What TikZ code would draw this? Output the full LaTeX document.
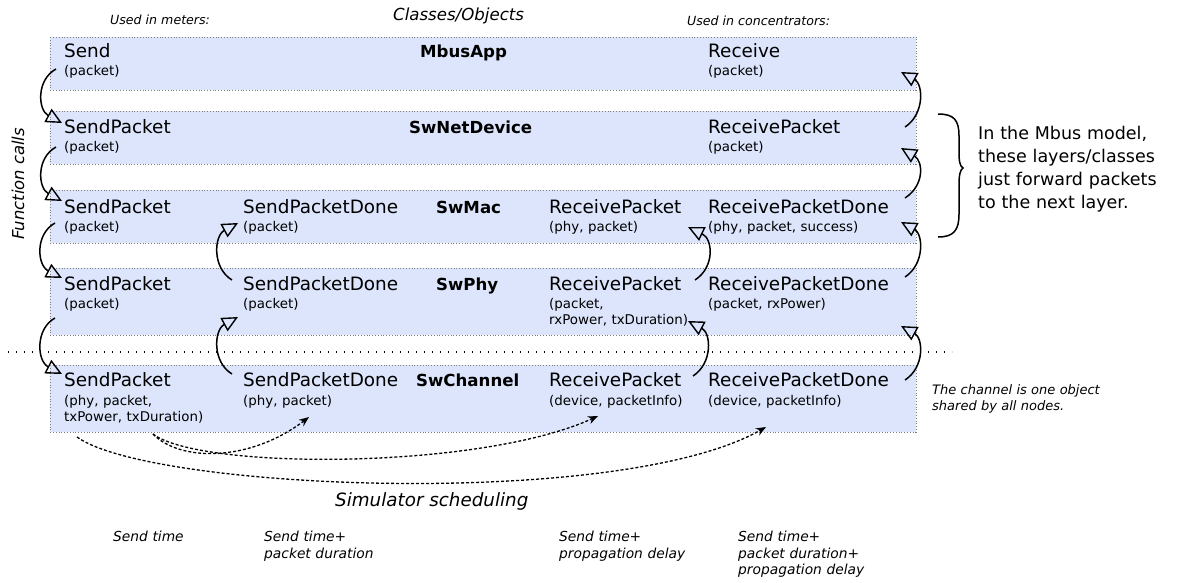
\documentclass[tikz,border=0pt]{standalone}
\usepackage{fontspec}
\setmainfont{DejaVu Sans}
\usetikzlibrary{arrows.meta}
\definecolor{layerfill}{RGB}{220,229,251}
\definecolor{layerline}{RGB}{125,125,125}
\begin{document}
\begin{tikzpicture}[x=1pt,y=-1pt,
 layer/.style={draw=layerline, dotted, line width=0.8pt, fill=layerfill},
 fn/.style={anchor=base west, inner sep=0, font=\fontsize{18.4}{22}\selectfont},
 prm/.style={anchor=base west, inner sep=0, text width=220pt, align=left, font=\fontsize{13.4}{16.5}\selectfont},
 cls/.style={anchor=base west, inner sep=0, font=\fontsize{16.6}{20}\selectfont\bfseries},
 hdr/.style={anchor=base west, inner sep=0, font=\fontsize{12.6}{15}\selectfont\itshape},
 foot/.style={anchor=base west, inner sep=0, text width=200pt, align=left, font=\fontsize{13.8}{16.6}\selectfont\itshape},
 call/.style={-{Triangle[open,length=16pt,width=15pt,line width=1.4pt]}, line width=1.5pt},
 sched/.style={-{Stealth[length=10pt,width=8pt]}, line width=1.3pt, dash pattern=on 3pt off 2pt},
 sep/.style={line width=1.2pt, dash pattern=on 1.2pt off 6.8pt},
]
\useasboundingbox (0,0) rectangle (1178,582);

% layer boxes
\path[layer] (50,37) rectangle (916,90);
\path[layer] (50,111) rectangle (916,164);
\path[layer] (50,190) rectangle (916,243);
\path[layer] (50,268) rectangle (916,335);
\path[layer] (50,365) rectangle (916,432);

% separator
\coordinate (sepL) at (8,352);
\coordinate (sepR) at (952,352);
\draw[sep] (sepL) -- (sepR);

% headers
\node[hdr] (meters) at (110,24) {Used in meters:};
\node[anchor=base west, inner sep=0, font=\fontsize{16.6}{20}\selectfont\itshape] (classes) at (393,20) {Classes/Objects};
\node[hdr] (conc) at (687,25) {Used in concentrators:};
\node[rotate=90, inner sep=0, font=\fontsize{16.4}{20}\selectfont\itshape] (fcalls) at (18,184) {Function calls};

% MbusApp
\node[fn] (appS) at (64,57) {Send};
\node[prm] (appSp) at (64,75.5) {(packet)};
\node[cls] (appC) at (420,57) {MbusApp};
\node[fn] (appR) at (708,57) {Receive};
\node[prm] (appRp) at (708,75.5) {(packet)};

% SwNetDevice
\node[fn] (netS) at (64,133) {SendPacket};
\node[prm] (netSp) at (64,151.5) {(packet)};
\node[cls] (netC) at (409,133) {SwNetDevice};
\node[fn] (netR) at (708,133) {ReceivePacket};
\node[prm] (netRp) at (708,151.5) {(packet)};

% SwMac
\node[fn] (macS) at (64,213) {SendPacket};
\node[prm] (macSp) at (64,231.5) {(packet)};
\node[fn] (macD) at (243,213) {SendPacketDone};
\node[prm] (macDp) at (243,231.5) {(packet)};
\node[cls] (macC) at (436,213) {SwMac};
\node[fn] (macR) at (549,213) {ReceivePacket};
\node[prm] (macRp) at (549,231.5) {(phy, packet)};
\node[fn] (macRD) at (708,213) {ReceivePacketDone};
\node[prm] (macRDp) at (708,231.5) {(phy, packet, success)};

% SwPhy
\node[fn] (phyS) at (64,290) {SendPacket};
\node[prm] (phySp) at (64,308) {(packet)};
\node[fn] (phyD) at (243,290) {SendPacketDone};
\node[prm] (phyDp) at (243,308) {(packet)};
\node[cls] (phyC) at (436,290) {SwPhy};
\node[fn] (phyR) at (549,290) {ReceivePacket};
\node[prm] (phyRp) at (549,308) {(packet,\\rxPower, txDuration)};
\node[fn] (phyRD) at (708,290) {ReceivePacketDone};
\node[prm] (phyRDp) at (708,308) {(packet, rxPower)};

% SwChannel
\node[fn] (chS) at (64,386) {SendPacket};
\node[prm] (chSp) at (64,405) {(phy, packet,\\txPower, txDuration)};
\node[fn] (chD) at (243,386) {SendPacketDone};
\node[prm] (chDp) at (243,405) {(phy, packet)};
\node[cls] (chC) at (416,386) {SwChannel};
\node[fn] (chR) at (549,386) {ReceivePacket};
\node[prm] (chRp) at (549,405) {(device, packetInfo)};
\node[fn] (chRD) at (708,386) {ReceivePacketDone};
\node[prm] (chRDp) at (708,405) {(device, packetInfo)};

% notes
\node[anchor=base west, inner sep=0, text width=200pt, align=left, font=\fontsize{17.5}{23.3}\selectfont] (mbusnote) at (978,139) {In the Mbus model,\\these layers/classes\\just forward packets\\to the next layer.};
\node[anchor=base west, inner sep=0, text width=200pt, align=left, font=\fontsize{13}{16.5}\selectfont\itshape] (chnote) at (932,394) {The channel is one object\\shared by all nodes.};

% brace
\draw[line width=1.5pt] (938,114) .. controls (954,114) and (959,120) .. (959,136) -- (959,152)
  .. controls (959,162) and (960,166) .. (963,168) .. controls (960,170) and (959,175) .. (959,186)
  -- (959,214) .. controls (959,230) and (954,237) .. (938,237);

% send-side calls (left column)
\coordinate (l1a) at (56,69);  \coordinate (l1b) at (62,123);
\coordinate (l2a) at (56,147); \coordinate (l2b) at (62,201);
\coordinate (l3a) at (55,223); \coordinate (l3b) at (62,278);
\coordinate (l4a) at (55,318); \coordinate (l4b) at (62,374);
\draw[call] (l1a) .. controls (36,80) and (38,110) .. (l1b);
\draw[call] (l2a) .. controls (36,158) and (38,188) .. (l2b);
\draw[call] (l3a) .. controls (35,234) and (37,265) .. (l3b);
\draw[call] (l4a) .. controls (35,329) and (37,361) .. (l4b);

% SendPacketDone calls
\coordinate (m1a) at (232,374); \coordinate (m1b) at (238,317);
\coordinate (m2a) at (232,280); \coordinate (m2b) at (238,223);
\draw[call] (m1a) .. controls (212,362) and (214,330) .. (m1b);
\draw[call] (m2a) .. controls (212,268) and (214,236) .. (m2b);

% ReceivePacket calls
\coordinate (r1a) at (693,376); \coordinate (r1b) at (688,321);
\coordinate (r2a) at (695,280); \coordinate (r2b) at (688,227);
\draw[call] (r1a) .. controls (713,363) and (711,333) .. (r1b);
\draw[call] (r2a) .. controls (715,267) and (713,239) .. (r2b);

% receive chain (right edge)
\coordinate (e1a) at (905,380); \coordinate (e1b) at (901,326);
\coordinate (e2a) at (905,277); \coordinate (e2b) at (901,222);
\coordinate (e3a) at (905,198); \coordinate (e3b) at (901,148);
\coordinate (e4a) at (905,127); \coordinate (e4b) at (901,72);
\draw[call] (e1a) .. controls (925,367) and (923,338) .. (e1b);
\draw[call] (e2a) .. controls (925,264) and (923,234) .. (e2b);
\draw[call] (e3a) .. controls (925,185) and (923,161) .. (e3b);
\draw[call] (e4a) .. controls (925,114) and (923,84) .. (e4b);

% simulator scheduling
\coordinate (s0) at (153,434);
\coordinate (s0b) at (77,437);
\coordinate (s1) at (309,417);
\coordinate (s2) at (598,416);
\coordinate (s3) at (766,427);
\draw[sched] (s0) .. controls (180,462) and (250,462) .. (s1);
\draw[sched] (s0) .. controls (200,470) and (480,470) .. (s2);
\draw[sched] (s0b) .. controls (150,490) and (620,510) .. (s3);

\node[anchor=base west, inner sep=0, font=\fontsize{18.3}{22}\selectfont\itshape] (simsched) at (335,506) {Simulator scheduling};

% time labels
\node[foot] (t0) at (113,541.5) {Send time};
\node[foot] (t1) at (264,541.5) {Send time+\\packet duration};
\node[foot] (t2) at (559,541.5) {Send time+\\propagation delay};
\node[foot] (t3) at (738,541.5) {Send time+\\packet duration+\\propagation delay};
\end{tikzpicture}
\end{document}
